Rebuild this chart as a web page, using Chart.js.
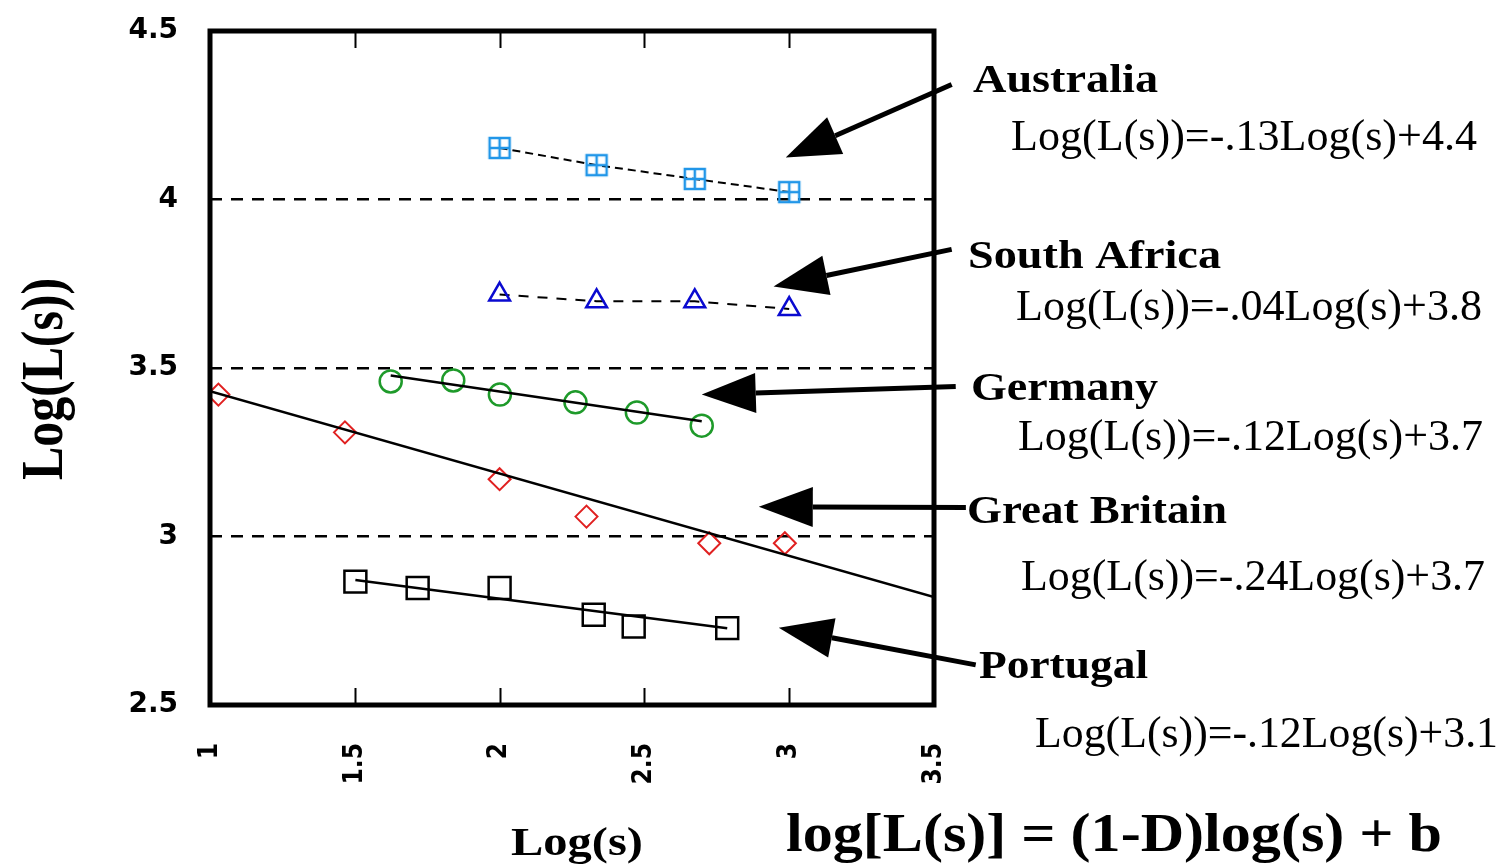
<!DOCTYPE html>
<html>
<head>
<meta charset="utf-8">
<script src="https://cdn.jsdelivr.net/npm/chart.js@4"></script>
<style>
  html, body { margin: 0; padding: 0; background: #fff; }
  #wrap { width: 1502px; height: 865px; }
</style>
</head>
<body>
<div id="wrap"><canvas id="chart" width="1502" height="865"></canvas></div>
<script>
// axis ticks
const xTicks = [1, 1.5, 2, 2.5, 3, 3.5];
const yTicks = [2.5, 3, 3.5, 4, 4.5];

// Australia
const ausX = [2.0, 2.335, 2.674, 3.0];
const ausY = [4.153, 4.102, 4.061, 4.022];
// South Africa
const safX = [2.0, 2.335, 2.674, 3.0];
const safY = [3.718, 3.698, 3.698, 3.675];
// Germany
const gerX = [1.624, 1.840, 2.001, 2.262, 2.474, 2.698];
const gerY = [3.460, 3.463, 3.421, 3.398, 3.368, 3.329];
const gerFitX = [1.624, 2.698];
const gerFitY = [3.478, 3.342];
// Great Britain
const gbrX = [1.029, 1.466, 2.0, 2.300, 2.724, 2.985];
const gbrY = [3.421, 3.309, 3.170, 3.059, 2.980, 2.980];
const gbrFitX = [1.0, 3.5];
const gbrFitY = [3.431, 2.820];
// Portugal
const porX = [1.502, 1.717, 2.0, 2.325, 2.463, 2.786];
const porY = [2.866, 2.847, 2.847, 2.768, 2.733, 2.728];
const porFitX = [1.502, 2.786];
const porFitY = [2.871, 2.728];

// annotation texts
const countries = ['Australia', 'South Africa', 'Germany', 'Great Britain', 'Portugal'];
const equations = [
    'Log(L(s))=-.13Log(s)+4.4',
    'Log(L(s))=-.04Log(s)+3.8',
    'Log(L(s))=-.12Log(s)+3.7',
    'Log(L(s))=-.24Log(s)+3.7',
    'Log(L(s))=-.12Log(s)+3.1'
];
// arrow tail / tip in data units
const arrowTailX = [3.561, 3.561, 3.575, 3.610, 3.644];
const arrowTailY = [4.341, 3.852, 3.445, 3.086, 2.619];
const arrowTipX = [2.988, 2.946, 2.698, 2.895, 2.964];
const arrowTipY = [4.125, 3.742, 3.421, 3.088, 2.729];

const xTitle = 'Log(s)';
const yTitle = 'Log(L(s))';
const formula = 'log[L(s)] = (1-D)log(s) + b';

// text layout (pixels): [x, baseline, width]
const nameBoxes = [[973, 92, 185], [968, 268, 253], [971, 400, 187], [967, 523, 260], [979, 678, 169]];
const eqBoxes = [[1011, 150, 466], [1016, 320, 466], [1018, 450, 465], [1021, 590, 464], [1035, 747, 463]];

const toPoints = (xs, ys) => xs.map((x, i) => ({ x, y: ys[i] }));

// boxed plus marker used for Australia
function boxedPlus(color) {
    const c = document.createElement('canvas');
    c.width = 26; c.height = 26;
    const g = c.getContext('2d');
    g.strokeStyle = color;
    g.lineWidth = 2.5;
    g.strokeRect(3, 3, 20, 20);
    g.beginPath();
    g.moveTo(13, 3); g.lineTo(13, 23);
    g.moveTo(3, 13); g.lineTo(23, 13);
    g.stroke();
    return c;
}

function drawFitted(ctx, text, x, y, font, width) {
    ctx.save();
    ctx.font = font;
    const w = ctx.measureText(text).width;
    ctx.translate(x, y);
    ctx.scale(width / w, 1);
    ctx.fillText(text, 0, 0);
    ctx.restore();
}

const decorPlugin = {
    id: 'decor',
    afterDatasetsDraw(chart) {
        const { ctx, chartArea: a, scales } = chart;
        const xs = scales.x, ys = scales.y;
        ctx.save();
        // inner tick marks top and bottom
        ctx.strokeStyle = '#000';
        ctx.lineWidth = 2;
        xTicks.slice(1, -1).forEach(v => {
            const px = Math.round(xs.getPixelForValue(v)) + 0.5;
            ctx.beginPath();
            ctx.moveTo(px, a.bottom); ctx.lineTo(px, a.bottom - 17);
            ctx.moveTo(px, a.top); ctx.lineTo(px, a.top + 17);
            ctx.stroke();
        });
        // frame
        ctx.lineWidth = 5;
        ctx.strokeRect(a.left, a.top, a.right - a.left, a.bottom - a.top);

        // arrows
        ctx.fillStyle = '#000';
        arrowTipX.forEach((_, i) => {
            const x0 = xs.getPixelForValue(arrowTailX[i]), y0 = ys.getPixelForValue(arrowTailY[i]);
            const x1 = xs.getPixelForValue(arrowTipX[i]), y1 = ys.getPixelForValue(arrowTipY[i]);
            const ang = Math.atan2(y1 - y0, x1 - x0);
            const headLen = 54, headW = 20;
            const bx = x1 - headLen * Math.cos(ang), by = y1 - headLen * Math.sin(ang);
            ctx.lineWidth = 5;
            ctx.beginPath();
            ctx.moveTo(x0, y0); ctx.lineTo(bx, by);
            ctx.stroke();
            ctx.beginPath();
            ctx.moveTo(x1, y1);
            ctx.lineTo(bx + headW * Math.sin(ang), by - headW * Math.cos(ang));
            ctx.lineTo(bx - headW * Math.sin(ang), by + headW * Math.cos(ang));
            ctx.closePath();
            ctx.fill();
        });

        // country names and equations
        ctx.textBaseline = 'alphabetic';
        ctx.textAlign = 'left';
        countries.forEach((name, i) => {
            const [x, y, w] = nameBoxes[i];
            drawFitted(ctx, name, x, y, 'bold 40px "Liberation Serif"', w);
            const [ex, ey, ew] = eqBoxes[i];
            drawFitted(ctx, equations[i], ex, ey, '44px "Liberation Serif"', ew);
        });

        // axis titles and formula
        drawFitted(ctx, xTitle, 511, 855, 'bold 40px "Liberation Serif"', 132);
        drawFitted(ctx, formula, 786, 851, 'bold 54px "Liberation Serif"', 656);
        ctx.save();
        ctx.translate(62, 480);
        ctx.rotate(-Math.PI / 2);
        drawFitted(ctx, yTitle, 0, 0, 'bold 60px "Liberation Serif"', 202);
        ctx.restore();
        ctx.restore();
    }
};

new Chart(document.getElementById('chart'), {
    type: 'scatter',
    data: {
        datasets: [
            {
                label: 'Australia', data: toPoints(ausX, ausY), showLine: true,
                borderColor: '#000', borderWidth: 2, borderDash: [8, 5],
                pointStyle: boxedPlus('#2196e8'), pointRadius: 12
            },
            {
                label: 'South Africa', data: toPoints(safX, safY), showLine: true,
                borderColor: '#000', borderWidth: 2, borderDash: [10, 9],
                pointStyle: 'triangle', pointRadius: 12, pointBorderWidth: 2.5,
                pointBorderColor: '#0a0ad0', pointBackgroundColor: 'transparent'
            },
            {
                label: 'Germany fit', data: toPoints(gerFitX, gerFitY), showLine: true,
                borderColor: '#000', borderWidth: 2.5, pointRadius: 0
            },
            {
                label: 'Germany', data: toPoints(gerX, gerY),
                pointStyle: 'circle', pointRadius: 11, pointBorderWidth: 2.5,
                pointBorderColor: '#1e9a2a', pointBackgroundColor: 'transparent'
            },
            {
                label: 'Great Britain fit', data: toPoints(gbrFitX, gbrFitY), showLine: true,
                borderColor: '#000', borderWidth: 2.5, pointRadius: 0
            },
            {
                label: 'Great Britain', data: toPoints(gbrX, gbrY),
                pointStyle: 'rectRot', pointRadius: 11, pointBorderWidth: 2,
                pointBorderColor: '#e02020', pointBackgroundColor: 'transparent'
            },
            {
                label: 'Portugal fit', data: toPoints(porFitX, porFitY), showLine: true,
                borderColor: '#000', borderWidth: 2.5, pointRadius: 0
            },
            {
                label: 'Portugal', data: toPoints(porX, porY),
                pointStyle: 'rect', pointRadius: 15.5, pointBorderWidth: 2.5,
                pointBorderColor: '#000', pointBackgroundColor: 'transparent'
            }
        ]
    },
    options: {
        responsive: false,
        animation: false,
        layout: { padding: { top: 31, right: 568, bottom: 0, left: 0 } },
        plugins: { legend: { display: false }, tooltip: { enabled: false } },
        scales: {
            x: {
                type: 'linear', min: 1, max: 3.5,
                afterFit: s => { s.height = 160; s.paddingLeft = 0; s.paddingRight = 0; },
                afterBuildTicks: s => { s.ticks = xTicks.map(v => ({ value: v })); },
                grid: { display: false },
                border: { display: false },
                ticks: {
                    minRotation: 90, maxRotation: 90, padding: 30,
                    color: '#000',
                    font: { family: '"DejaVu Sans Condensed", "DejaVu Sans"', size: 26, weight: 'bold' },
                    callback: v => String(v)
                }
            },
            y: {
                type: 'linear', min: 2.5, max: 4.5,
                afterFit: s => { s.width = 210; s.paddingTop = 0; s.paddingBottom = 0; },
                afterBuildTicks: s => { s.ticks = yTicks.map(v => ({ value: v })); },
                grid: { drawTicks: false, color: '#000', lineWidth: 2.5 },
                border: { display: false, dash: [12, 9] },
                ticks: {
                    padding: 32, color: '#000',
                    font: { family: '"DejaVu Sans"', size: 28, weight: 'bold' },
                    callback: v => String(v)
                }
            }
        }
    },
    plugins: [decorPlugin]
});
</script>
</body>
</html>
